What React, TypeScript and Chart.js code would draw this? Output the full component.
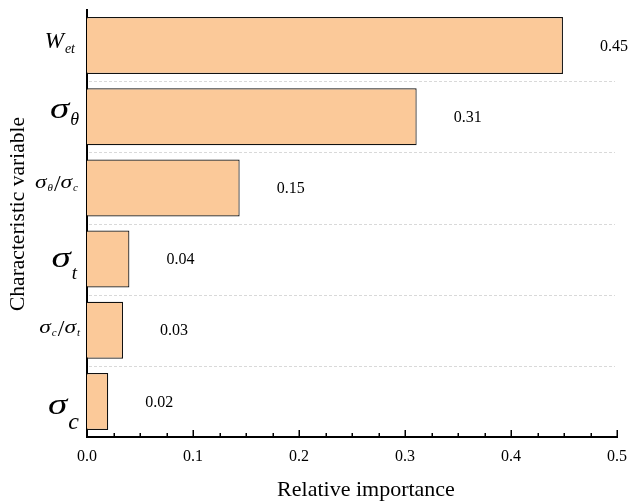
import { useEffect, useRef } from 'react';
import { Chart, registerables } from 'chart.js';

Chart.register(...registerables);

// ---- data ----
const categories = ['W_et', 'σ_θ', 'σ_θ/σ_c', 'σ_t', 'σ_c/σ_t', 'σ_c'];
const importance = [0.449, 0.311, 0.144, 0.040, 0.034, 0.020];
const valueLabels = ['0.45', '0.31', '0.15', '0.04', '0.03', '0.02'];
const xTickValues = [0, 0.1, 0.2, 0.3, 0.4, 0.5];

// ---- styles ----
const SERIF = '"Liberation Serif", "Times New Roman", Times, serif';
const CANVAS_W = 634;
const CANVAS_H = 503;
const AREA = { left: 87, top: 10, right: 617, bottom: 437 };
type LS = { size: number; sub: number; subDy: number; dy: number; slash?: number; right: number };
const labelStyles: LS[] = [
  { size: 23, sub: 14, subDy: 5, dy: 2, right: 75 },
  { size: 30, sub: 18, subDy: 7, dy: 1, right: 79 },
  { size: 18, sub: 11, subDy: 3, dy: 0, slash: 24, right: 78 },
  { size: 30, sub: 19, subDy: 12, dy: 8, right: 77 },
  { size: 18, sub: 11, subDy: 3, dy: 3, slash: 24, right: 80 },
  { size: 30, sub: 24, subDy: 15, dy: 13, right: 79 },
];

if (typeof document !== 'undefined') {
  document.body.style.margin = '0';
  document.body.style.overflow = 'hidden';
}

type Piece = { text: string; font: string; dy: number; gap: number; sx: number };

function buildPieces(label: string, st: LS): Piece[] {
  const pieces: Piece[] = [];
  const terms = label.split('/');
  terms.forEach((term, ti) => {
    if (ti > 0) {
      pieces.push({ text: '/', font: `${st.slash || st.size}px ${SERIF}`, dy: 3, gap: 1, sx: 1 });
    }
    const [b, s] = term.split('_');
    const greek = b === 'σ';
    pieces.push({ text: b, font: `italic ${st.size}px ${SERIF}`, dy: 0, gap: 0, sx: greek ? 1.3 : 1 });
    if (s) pieces.push({ text: s, font: `italic ${st.sub}px ${SERIF}`, dy: st.subDy, gap: 1, sx: 1 });
  });
  return pieces;
}

const customDraw = {
  id: 'customDraw',
  beforeDatasetsDraw(chart: any) {
    const { ctx, chartArea, scales } = chart;
    const y = scales.y;
    ctx.save();
    ctx.strokeStyle = '#d9d9d9';
    ctx.lineWidth = 1;
    ctx.setLineDash([3, 2]);
    for (let i = 0; i < categories.length - 1; i++) {
      const yy = Math.round((y.getPixelForValue(i) + y.getPixelForValue(i + 1)) / 2) + 0.5;
      ctx.beginPath();
      ctx.moveTo(chartArea.left + 2, yy);
      ctx.lineTo(chartArea.right - 2, yy);
      ctx.stroke();
    }
    ctx.restore();
  },
  afterDatasetsDraw(chart: any) {
    const { ctx, chartArea, scales } = chart;
    const x = scales.x;
    const y = scales.y;
    const meta = chart.getDatasetMeta(0);
    ctx.save();
    // value labels
    ctx.fillStyle = '#000';
    ctx.font = `16px ${SERIF}`;
    ctx.textAlign = 'left';
    ctx.textBaseline = 'middle';
    meta.data.forEach((bar: any, i: number) => {
      ctx.fillText(valueLabels[i], bar.x + 37, bar.y + 1);
    });
    // inward x ticks
    ctx.strokeStyle = '#000';
    ctx.lineWidth = 1.5;
    for (let k = 0; k <= 20; k++) {
      const v = k * 0.025;
      const px = Math.round(x.getPixelForValue(v)) + 0.25;
      const len = k % 4 === 0 ? 7 : 4;
      ctx.beginPath();
      ctx.moveTo(px, chartArea.bottom);
      ctx.lineTo(px, chartArea.bottom - len);
      ctx.stroke();
    }
    // category labels
    ctx.textAlign = 'left';
    ctx.textBaseline = 'alphabetic';
    categories.forEach((label, i) => {
      const st = labelStyles[i];
      const pieces = buildPieces(label, st);
      let total = 0;
      pieces.forEach((p) => {
        ctx.font = p.font;
        total += ctx.measureText(p.text).width * p.sx + p.gap;
      });
      let cx = st.right - total;
      const base = y.getPixelForValue(i) + st.dy;
      pieces.forEach((p) => {
        ctx.font = p.font;
        cx += p.gap;
        ctx.save();
        ctx.translate(cx, base + p.dy);
        ctx.scale(p.sx, 1);
        ctx.fillText(p.text, 0, 0);
        ctx.restore();
        cx += ctx.measureText(p.text).width * p.sx;
      });
    });
    // axis titles
    ctx.font = `22px ${SERIF}`;
    ctx.textAlign = 'center';
    ctx.textBaseline = 'middle';
    ctx.fillText('Relative importance', 366, 490);
    ctx.font = `21.5px ${SERIF}`;
    ctx.translate(18, 214);
    ctx.rotate(-Math.PI / 2);
    ctx.fillText('Characteristic variable', 0, 0);
    ctx.restore();
  },
};

export default function App() {
  const ref = useRef<HTMLCanvasElement>(null);
  useEffect(() => {
    const chart = new Chart(ref.current!, {
      type: 'bar',
      data: {
        labels: categories,
        datasets: [
          {
            data: importance,
            backgroundColor: '#FBC999',
            borderColor: '#111',
            borderWidth: 1.2,
            barPercentage: 0.8,
            categoryPercentage: 1,
          },
        ],
      },
      options: {
        indexAxis: 'y',
        animation: false,
        responsive: false,
        layout: { padding: { top: AREA.top, right: 0, left: 0, bottom: 0 } },
        plugins: { legend: { display: false }, tooltip: { enabled: false } },
        scales: {
          x: {
            type: 'linear',
            min: 0,
            max: 0.5,
            afterBuildTicks: (s: any) => {
              s.ticks = xTickValues.map((v) => ({ value: v }));
            },
            afterFit: (s: any) => {
              s.height = CANVAS_H - AREA.bottom;
              s.paddingRight = CANVAS_W - AREA.right;
              s.paddingLeft = 0;
            },
            ticks: {
              callback: (v: any) => Number(v).toFixed(1),
              font: { family: SERIF, size: 16 },
              color: '#000',
              padding: 10,
            },
            grid: { display: false, drawTicks: false },
            border: { display: true, color: '#000', width: 2 },
          },
          y: {
            type: 'category',
            afterFit: (s: any) => {
              s.width = AREA.left;
            },
            ticks: { display: false },
            grid: { display: false, drawTicks: false },
            border: { display: true, color: '#000', width: 2 },
          },
        },
      },
      plugins: [customDraw],
    } as any);
    return () => chart.destroy();
  }, []);
  return (
    <div style={{ width: CANVAS_W, height: CANVAS_H }}>
      <canvas ref={ref} width={CANVAS_W} height={CANVAS_H} style={{ display: 'block' }} />
    </div>
  );
}
